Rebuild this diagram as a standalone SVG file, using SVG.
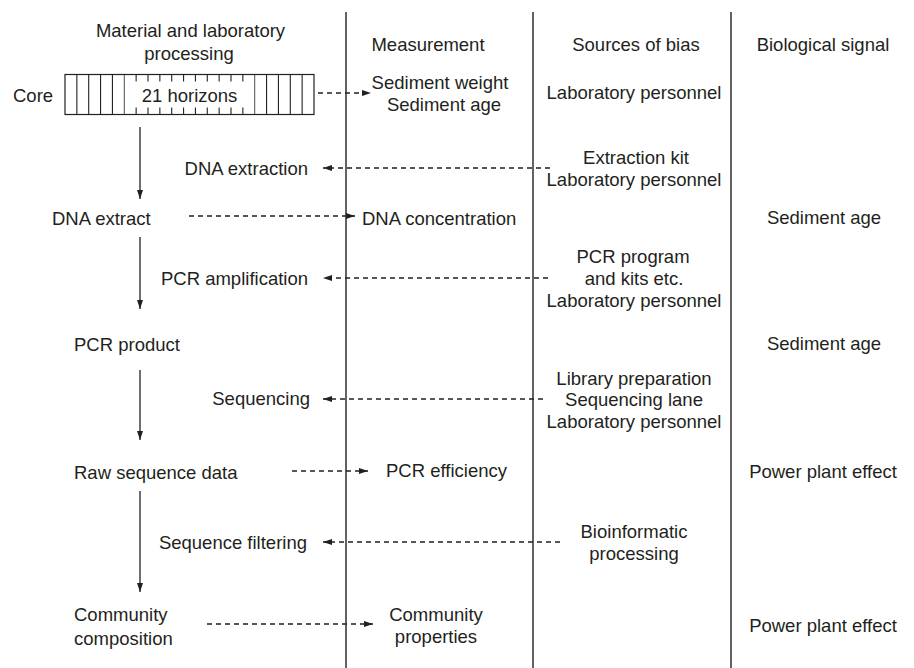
<svg xmlns="http://www.w3.org/2000/svg" width="914" height="668" viewBox="0 0 914 668">
<style>
text{font-family:"Liberation Sans",Arial,sans-serif;font-size:18.5px;fill:#231f20}
.m{text-anchor:middle}.e{text-anchor:end}
.col{stroke:#231f20;stroke-width:1.4;fill:none}
.sol{stroke:#231f20;stroke-width:1.3;fill:none;marker-end:url(#ah)}
.dash{stroke:#231f20;stroke-width:1.4;fill:none;stroke-dasharray:5 4;marker-end:url(#ah)}
.cell{stroke:#231f20;stroke-width:1.1}
</style>
<defs>
<marker id="ah" markerUnits="userSpaceOnUse" markerWidth="10" markerHeight="7" refX="9" refY="3" orient="auto">
<path d="M0,0 L9,3 L0,6 z" fill="#231f20"/>
</marker>
</defs>
<rect width="914" height="668" fill="#fff"/>
<g id="columns">
<line class="col" x1="346" y1="12" x2="346" y2="668"/>
<line class="col" x1="533" y1="12" x2="533" y2="668"/>
<line class="col" x1="731" y1="12" x2="731" y2="668"/>
</g>
<g id="headers">
<text class="m" x="190.5" y="37">Material and laboratory</text>
<text class="m" x="189" y="60">processing</text>
<text class="m" x="428" y="51">Measurement</text>
<text class="m" x="636" y="51">Sources of bias</text>
<text class="m" x="823" y="51">Biological signal</text>
</g>
<g id="core">
<text x="13" y="102">Core</text>
<rect x="65" y="74.5" width="249" height="40" fill="#fff" stroke="#231f20" stroke-width="1.2"/>
<g class="cell">
<line x1="76.86" y1="74.5" x2="76.86" y2="114.5"/>
<line x1="88.71" y1="74.5" x2="88.71" y2="114.5"/>
<line x1="100.57" y1="74.5" x2="100.57" y2="114.5"/>
<line x1="112.43" y1="74.5" x2="112.43" y2="114.5"/>
<line x1="124.29" y1="74.5" x2="124.29" y2="114.5" stroke-width="0.8"/>
<line x1="136.14" y1="74.5" x2="136.14" y2="114.5"/>
<line x1="148" y1="74.5" x2="148" y2="114.5"/>
<line x1="159.86" y1="74.5" x2="159.86" y2="114.5"/>
<line x1="171.71" y1="74.5" x2="171.71" y2="114.5"/>
<line x1="183.57" y1="74.5" x2="183.57" y2="114.5"/>
<line x1="195.43" y1="74.5" x2="195.43" y2="114.5"/>
<line x1="207.29" y1="74.5" x2="207.29" y2="114.5"/>
<line x1="219.14" y1="74.5" x2="219.14" y2="114.5"/>
<line x1="231" y1="74.5" x2="231" y2="114.5"/>
<line x1="242.86" y1="74.5" x2="242.86" y2="114.5"/>
<line x1="254.71" y1="74.5" x2="254.71" y2="114.5" stroke-width="0.8"/>
<line x1="266.57" y1="74.5" x2="266.57" y2="114.5"/>
<line x1="278.43" y1="74.5" x2="278.43" y2="114.5"/>
<line x1="290.29" y1="74.5" x2="290.29" y2="114.5"/>
<line x1="302.14" y1="74.5" x2="302.14" y2="114.5"/>
</g>
<rect x="125" y="81.5" width="129" height="26" fill="#fff"/>
<text class="m" x="189.5" y="102">21 horizons</text>
</g>
<g id="connectors">
<line class="sol" x1="140" y1="127" x2="140" y2="199"/>
<line class="sol" x1="140" y1="237" x2="140" y2="309"/>
<line class="sol" x1="140" y1="370" x2="140" y2="440"/>
<line class="sol" x1="140" y1="491" x2="140" y2="592"/>
<line class="dash" x1="318" y1="93" x2="371" y2="93"/>
<line class="dash" x1="189" y1="216" x2="355" y2="216"/>
<line class="dash" x1="292" y1="471" x2="368" y2="471"/>
<line class="dash" x1="207" y1="624" x2="373" y2="624"/>
<line class="dash" x1="550" y1="168" x2="323" y2="168"/>
<line class="dash" x1="548" y1="278" x2="323" y2="278"/>
<line class="dash" x1="543" y1="399" x2="323" y2="399"/>
<line class="dash" x1="560" y1="542" x2="323" y2="542"/>
</g>
<g id="sediment-measure"><text class="m" x="440" y="89">Sediment weight</text><text class="m" x="444" y="111">Sediment age</text></g>
<g id="bias-core"><text class="m" x="634" y="99">Laboratory personnel</text></g>
<g id="dna-extraction"><text class="e" x="308" y="175">DNA extraction</text></g>
<g id="bias-extraction"><text class="m" x="636" y="164">Extraction kit</text><text class="m" x="634" y="186">Laboratory personnel</text></g>
<g id="dna-extract"><text x="52" y="225">DNA extract</text></g>
<g id="dna-concentration"><text x="362" y="225">DNA concentration</text></g>
<g id="signal-age-1"><text class="m" x="824" y="224">Sediment age</text></g>
<g id="pcr-amplification"><text class="e" x="308" y="285">PCR amplification</text></g>
<g id="bias-pcr"><text class="m" x="633" y="263">PCR program</text><text class="m" x="634" y="285">and kits etc.</text><text class="m" x="634" y="307">Laboratory personnel</text></g>
<g id="pcr-product"><text x="74" y="351">PCR product</text></g>
<g id="signal-age-2"><text class="m" x="824" y="350">Sediment age</text></g>
<g id="sequencing"><text class="e" x="310" y="405">Sequencing</text></g>
<g id="bias-sequencing"><text class="m" x="634" y="385">Library preparation</text><text class="m" x="634" y="406">Sequencing lane</text><text class="m" x="634" y="428">Laboratory personnel</text></g>
<g id="raw-data"><text x="74" y="479">Raw sequence data</text></g>
<g id="pcr-efficiency"><text x="386" y="477">PCR efficiency</text></g>
<g id="signal-power-1"><text class="m" x="823" y="478">Power plant effect</text></g>
<g id="sequence-filtering"><text class="e" x="307" y="549">Sequence filtering</text></g>
<g id="bias-bioinfo"><text class="m" x="634" y="538">Bioinformatic</text><text class="m" x="634" y="560">processing</text></g>
<g id="community-composition"><text x="74" y="621">Community</text><text x="74" y="645">composition</text></g>
<g id="community-properties"><text class="m" x="436" y="621">Community</text><text class="m" x="436" y="643">properties</text></g>
<g id="signal-power-2"><text class="m" x="823" y="632">Power plant effect</text></g>
</svg>
